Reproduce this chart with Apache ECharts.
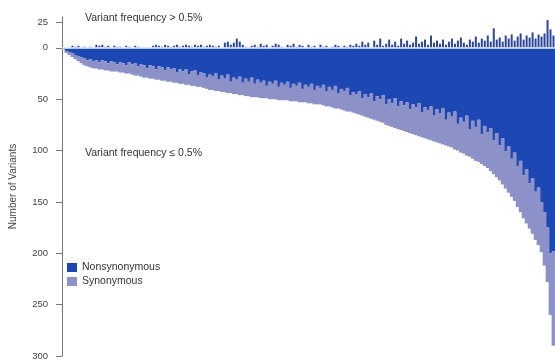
<!DOCTYPE html>
<html>
<head>
<meta charset="utf-8">
<script src="https://cdn.jsdelivr.net/npm/echarts@6/dist/echarts.min.js"></script>
<style>
html,body{margin:0;padding:0;background:#fff;}
#c{width:555px;height:362px;}
</style>
</head>
<body>
<div id="c"></div>
<script>
// Genes sorted by number of rare variants (one bar per gene group)
const nonsynonymous = [
1,3,4,5,7,8,9,10,12,11,13,12,14,12,13,15,13,14,16,14,
15,17,14,16,15,18,16,17,20,17,18,21,18,19,22,19,21,20,24,21,
23,21,26,23,22,27,24,25,29,26,28,25,31,27,30,26,33,29,31,28,
34,30,33,29,35,31,34,32,37,33,35,32,38,34,36,33,39,35,37,34,
40,36,38,35,41,37,39,36,42,38,41,37,44,40,42,39,46,43,45,42,
49,45,48,44,52,47,50,46,55,50,54,49,57,52,56,53,60,55,58,54,
63,58,61,57,66,60,64,59,70,63,67,62,74,68,72,66,79,71,77,70,
84,76,82,78,90,83,95,88,101,96,108,102,115,110,124,118,132,127,140,136,
150,160,175,200,198
];
const synonymous = [
0,2,3,4,4,5,6,7,6,8,7,8,7,9,9,7,10,9,7,10,
9,8,11,10,12,9,12,12,9,13,12,10,13,13,10,14,12,14,10,14,
12,15,10,14,15,11,14,14,11,15,13,17,11,16,13,18,11,16,14,18,
12,17,14,19,13,17,15,17,12,17,15,18,13,17,15,18,13,17,15,19,
13,17,16,19,14,18,16,20,15,19,17,22,15,20,19,23,16,20,19,23,
17,22,20,25,18,24,22,27,20,26,23,29,22,28,25,29,23,29,27,32,
24,30,28,33,25,32,29,35,25,33,30,37,26,34,31,39,27,37,33,41,
29,39,35,42,33,43,34,45,36,45,37,47,40,50,42,53,44,54,47,56,
49,52,53,60,92
];
// Variant frequency > 0.5%
const commonVariants = [
0,0,0,2,1,2,0,1,0,1,0,3,2,3,1,2,0,2,1,1,
0,2,1,0,2,1,0,0,0,0,2,3,2,1,3,2,1,2,3,1,
2,3,2,1,3,2,3,1,2,3,2,1,2,0,5,6,3,5,9,6,
3,1,0,2,3,1,4,2,3,0,2,4,3,1,0,3,2,4,1,3,
2,0,3,1,2,0,3,1,2,0,1,3,2,0,2,1,3,2,4,2,
6,3,5,0,7,3,9,2,4,8,3,6,2,9,4,7,3,5,11,4,
6,8,3,12,5,7,4,8,3,6,9,4,7,10,5,3,8,6,11,5,
9,7,12,6,19,8,10,6,12,9,13,7,11,14,8,12,10,15,9,13,
11,14,27,18,12
];
const categories = nonsynonymous.map((_, i) => 'G' + (i + 1));
const tickValues = [25, 0, -50, -100, -150, -200, -250, -300];

const chart = echarts.init(document.getElementById('c'), null, {renderer: 'canvas'});
const FONT = 'Liberation Sans, Arial, sans-serif';
chart.setOption({
  animation: false,
  backgroundColor: '#ffffff',
  grid: {left: 60, right: 0, top: 17, bottom: 6, containLabel: false},
  legend: {
    data: ['Nonsynonymous', 'Synonymous'],
    orient: 'vertical',
    left: 62, top: 257,
    itemWidth: 10, itemHeight: 9, itemGap: 3,
    icon: 'rect',
    textStyle: {fontSize: 10.5, color: '#333', fontFamily: FONT}
  },
  xAxis: [
    {type: 'category', data: categories, show: false, boundaryGap: true},
    {type: 'category', data: categories, show: false, boundaryGap: true}
  ],
  yAxis: {
    type: 'value', min: -300, max: 30,
    name: 'Number of Variants', nameLocation: 'middle', nameGap: 44,
    nameTextStyle: {fontSize: 10, color: '#444', fontFamily: FONT},
    axisLine: {show: true, lineStyle: {color: '#777', width: 1}},
    axisTick: {show: true, length: 6, customValues: tickValues, lineStyle: {color: '#777'}},
    axisLabel: {customValues: tickValues, margin: 14, fontSize: 9.5, color: '#444', fontFamily: FONT,
      formatter: v => String(Math.abs(v))},
    splitLine: {show: false}
  },
  series: [
    {
      name: 'Nonsynonymous', type: 'bar', stack: 'rare', xAxisIndex: 0,
      data: nonsynonymous.map(v => -v), barCategoryGap: '0%', barWidth: 3.8,
      itemStyle: {color: '#1d47b3'},
      markLine: {silent: true, symbol: 'none', label: {show: false},
        lineStyle: {color: '#e8efff', width: 1.5, type: 'solid'}, data: [{yAxis: 0}]}
    },
    {
      name: 'Synonymous', type: 'bar', stack: 'rare', xAxisIndex: 0,
      data: synonymous.map(v => -v), barCategoryGap: '0%', barWidth: 3.8,
      itemStyle: {color: '#8c91c8'}
    },
    {
      name: 'Common', type: 'bar', xAxisIndex: 1,
      data: commonVariants, barWidth: 2,
      itemStyle: {color: '#2d4598'}
    }
  ],
  graphic: [
    {type: 'text', left: 85, top: 13, style: {text: 'Variant frequency > 0.5%', fontSize: 10.5, fill: '#333', fontFamily: FONT}},
    {type: 'text', left: 85, top: 148, style: {text: 'Variant frequency \u2264 0.5%', fontSize: 10.5, fill: '#333', fontFamily: FONT}}
  ]
});
</script>
</body>
</html>
